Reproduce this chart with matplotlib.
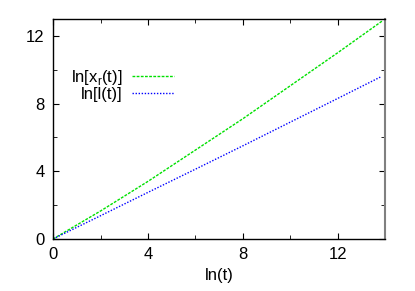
import matplotlib
matplotlib.use("Agg")
import matplotlib.pyplot as plt
from matplotlib.ticker import MultipleLocator

# 값
t_green = [0, 2, 4, 6, 8, 10, 12, 13.9]
x_r = [0, 1.65, 3.4, 5.25, 7.1, 9.05, 11.0, 12.9]
t_blue = [0, 2, 4, 6, 8, 10, 12, 13.85]
l_t = [0, 1.37, 2.75, 4.12, 5.5, 6.9, 8.3, 9.6]

xticks = [0, 4, 8, 12]
yticks = [0, 4, 8, 12]

plt.rcParams['font.family'] = ['Liberation Sans', 'DejaVu Sans']

fig = plt.figure(figsize=(4.15, 2.91), dpi=100)
ax = fig.add_axes([0.128, 0.179, 0.8, 0.756])

ax.plot(t_green, x_r, color='#00e000', lw=1.0, dashes=(2, 1), label=r'ln[x$_\mathregular{r}$(t)]')
ax.plot(t_blue, l_t, color='#0000ff', lw=1.0, dashes=(1, 1.2), label='ln[l(t)]')

ax.set_xlim(0, 14)
ax.set_ylim(0, 13)
ax.set_xticks(xticks)
ax.set_yticks(yticks)
ax.xaxis.set_minor_locator(MultipleLocator(2))
ax.yaxis.set_minor_locator(MultipleLocator(2))
ax.tick_params(which='both', direction='in', top=True, right=True, labelsize=12, pad=6)
ax.tick_params(which='major', length=4)
ax.tick_params(which='minor', length=3)
ax.set_xlabel('ln(t)', fontsize=12, labelpad=4)

for s in ax.spines.values():
    s.set_linewidth(1.0)
ax.spines['right'].set_color('#808080')
ax.spines['right'].set_linewidth(1.5)

leg = ax.legend(loc='center right', bbox_to_anchor=(0.364, 0.70), frameon=False,
                fontsize=12, markerfirst=False, handlelength=2.5, handletextpad=0.6,
                labelspacing=0.0, borderpad=0, borderaxespad=0)
for txt in leg.get_texts():
    txt.set_ha('right')
leg._legend_box.align = 'right'

fig.savefig('out.png', dpi=100)
